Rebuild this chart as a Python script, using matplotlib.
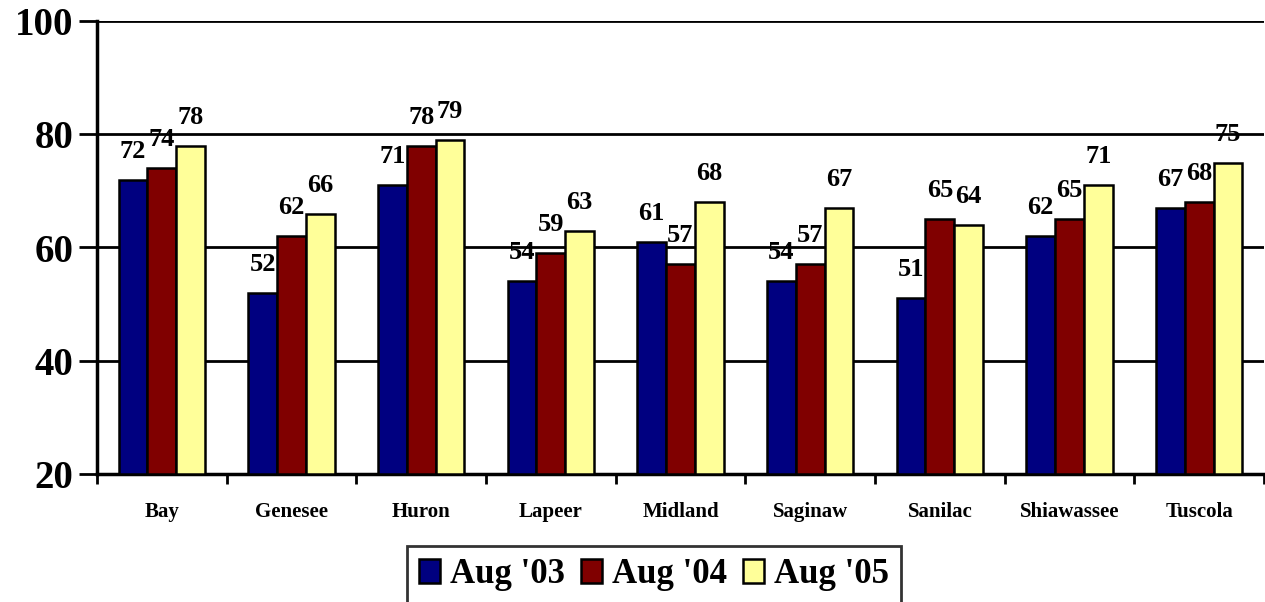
import numpy as np
import matplotlib
matplotlib.use("Agg")
import matplotlib.pyplot as plt

plt.rcParams['font.family'] = ['Liberation Serif', 'DejaVu Serif']
plt.rcParams['font.weight'] = 'bold'

condados = ["Bay", "Genesee", "Huron", "Lapeer", "Midland", "Saginaw",
            "Sanilac", "Shiawassee", "Tuscola"]
aug_03 = [72, 52, 71, 54, 61, 54, 51, 62, 67]
aug_04 = [74, 62, 78, 59, 57, 57, 65, 65, 68]
aug_05 = [78, 66, 79, 63, 68, 67, 64, 71, 75]
series = ["Aug '03", "Aug '04", "Aug '05"]
colores = ["#000080", "#800000", "#FFFF99"]

fig = plt.figure(figsize=(12.65, 6.02), dpi=100)
ax = fig.add_axes([97 / 1265, 1 - 474 / 602, 1167 / 1265, 453 / 602])

x = np.arange(len(condados))
ancho = 0.222
for i, (vals, nombre, color) in enumerate(zip([aug_03, aug_04, aug_05], series, colores)):
    pos = x + (i - 1) * ancho
    ax.bar(pos, np.array(vals) - 20, bottom=20, width=ancho, color=color,
           edgecolor='black', linewidth=1.8, label=nombre, zorder=3)
    for p, v in zip(pos, vals):
        ax.text(p, v + 3.0, str(v), ha='center', va='bottom',
                fontsize=19, fontweight='bold', zorder=4)

ax.set_xlim(-0.5, len(condados) - 0.5)
ax.set_ylim(20, 100)
ax.set_yticks([20, 40, 60, 80, 100])
ax.set_yticklabels(["20", "40", "60", "80", "100"], fontsize=28, fontweight='bold')
ax.yaxis.grid(True, color='black', linewidth=2, zorder=0)
ax.set_axisbelow(True)

ax.set_xticks(x)
ax.set_xticklabels(condados, fontsize=15, fontweight='bold')
ax.tick_params(axis='x', length=0, pad=20)
ax.set_xticks(np.arange(len(condados) + 1) - 0.5, minor=True)
ax.tick_params(axis='x', which='minor', length=7, width=2, direction='out')
ax.tick_params(axis='y', length=13, width=2, direction='out', pad=4)

for s in ['top', 'right']:
    ax.spines[s].set_visible(False)
for s in ['left', 'bottom']:
    ax.spines[s].set_linewidth(2.5)

leg = fig.legend(loc='upper left', bbox_to_anchor=(407 / 1265, 1 - 546 / 602),
                 ncol=3, fontsize=25, frameon=True, fancybox=False,
                 handlelength=0.6, handleheight=0.65, handletextpad=0.3,
                 columnspacing=0.45, borderpad=0.35, borderaxespad=0)
leg.get_frame().set_edgecolor('black')
leg.get_frame().set_linewidth(2)
for t in leg.get_texts():
    t.set_fontweight('bold')

fig.savefig("out.png", dpi=100)
